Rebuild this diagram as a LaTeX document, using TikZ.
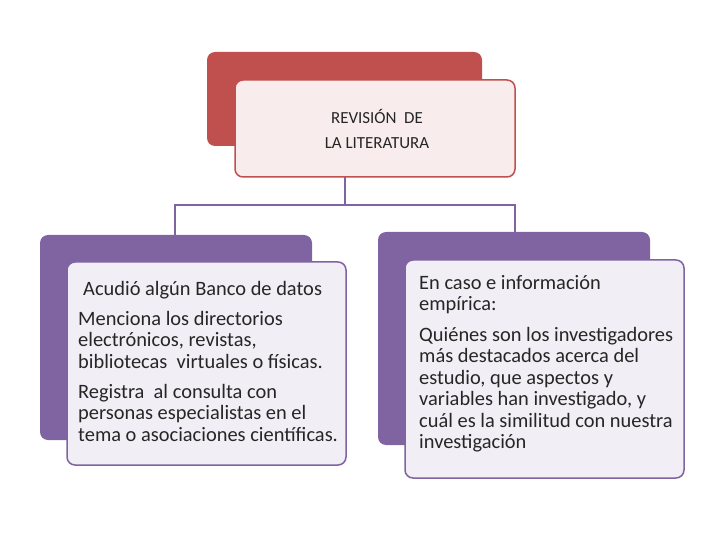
\documentclass[tikz,border=0pt]{standalone}
\usepackage{fontspec}
\setmainfont{Carlito}
\definecolor{rd}{HTML}{C0504D}
\definecolor{pu}{HTML}{8064A2}
\definecolor{pk}{HTML}{F8ECEC}
\definecolor{lv}{HTML}{F1EEF5}
\begin{document}
\begin{tikzpicture}[x=1bp,y=-1bp,
  back/.style={rounded corners=8bp},
  front/.style={rounded corners=8bp,line width=1.5bp},
  conn/.style={pu,line width=2.5bp},
  txt/.style={font=\fontsize{20.5}{21.5}\selectfont,text=black!85,align=left,anchor=north west,inner sep=0pt}]
\useasboundingbox (0,0) rectangle (720,540);
\fill[rd,back] (207,52) rectangle (482,146);
\draw[rd,front,fill=pk] (235,80) rectangle (515,177);
\coordinate (t) at (345,177);
\node[font=\fontsize{17}{26}\selectfont,align=center,text=black!85] (title) at (377,129) {REVISIÓN\ \ DE\\LA LITERATURA};
\fill[pu,back] (40,235) rectangle (312,440);
\fill[pu,back] (378,232) rectangle (650,445);
\draw[conn] (t) -- (345,205) coordinate (m) (175,205) -- (515,205);
\draw[conn] (175,204) -- (175,235) coordinate (l);
\draw[conn] (515,204) -- (515,232) coordinate (r);
\draw[pu,front,fill=lv] (67,262) rectangle (346,465);
\draw[pu,front,fill=lv] (405,260) rectangle (684,478);
\node[txt] (a1) at (83,281) {Acudió algún Banco de datos};
\node[txt] (a2) at (78,311) {Menciona los directorios\\electrónicos, revistas,\\bibliotecas\ \ virtuales o físicas.};
\node[txt] (a3) at (78,384) {Registra\ \ al consulta con\\personas especialistas en el\\tema o asociaciones científicas.};
\node[txt] (b1) at (419,275) {En caso e información\\empírica:};
\node[txt] (b2) at (419,327) {Quiénes son los investigadores\\más destacados acerca del\\estudio, que aspectos y\\variables han investigado, y\\cuál es la similitud con nuestra\\investigación};
\end{tikzpicture}
\end{document}
